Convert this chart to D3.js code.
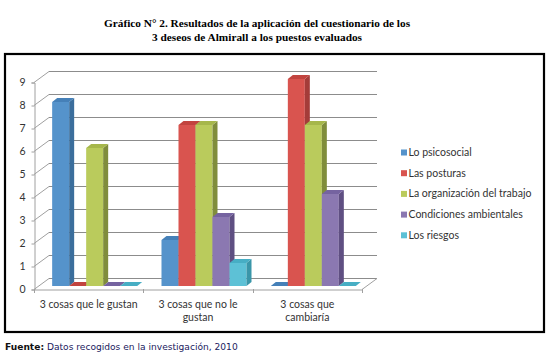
<!DOCTYPE html>
<html><head><meta charset="utf-8">
<script src="https://cdn.jsdelivr.net/npm/d3@7"></script>
<style>
html,body{margin:0;padding:0;background:#fff;}
svg{display:block;}
</style></head>
<body>
<svg id="chart" width="548" height="356"></svg>
<script>
// ---- data ----
const categories = ["3 cosas que le gustan", "3 cosas que no le gustan", "3 cosas que cambiaría"];
const categoryLabels = [["3 cosas que le gustan"], ["3 cosas que no le", "gustan"], ["3 cosas que", "cambiaría"]];
const seriesNames = ["Lo psicosocial", "Las posturas", "La organización del trabajo", "Condiciones ambientales", "Los riesgos"];
const psicosocial = [8, 2, 0];
const posturas = [0, 7, 9];
const organizacion = [6, 7, 7];
const condiciones = [0, 3, 4];
const riesgos = [0, 1, 0];
const yTicks = [0, 1, 2, 3, 4, 5, 6, 7, 8, 9];
const seriesColors = ["#5593cb", "#d9544f", "#bacb5c", "#8b78b1", "#5dc1d6"];
const sideColors = ["#3b6e9c", "#a43c39", "#808d3c", "#5f4f82", "#3a96a9"];
const topColors = ["#4580b8", "#c2443f", "#a6b74b", "#7563a0", "#47aec4"];
const titleLines = ["Gráfico N° 2. Resultados de la aplicación del cuestionario de los", "3 deseos de Almirall a los puestos evaluados"];

const seriesValues = [psicosocial, posturas, organizacion, condiciones, riesgos];

const svg = d3.select("#chart");
const font = "Lato, 'Open Sans', sans-serif";

// title
svg.append("g").selectAll("text").data(titleLines).join("text")
  .attr("x", 257).attr("y", (d, i) => 27 + i * 14)
  .attr("text-anchor", "middle")
  .attr("font-family", "'Liberation Serif', 'Times New Roman', serif")
  .attr("font-weight", "bold").attr("font-size", 11.3).attr("fill", "#000")
  .text(d => d);

// frame
svg.append("rect").attr("x", 5).attr("y", 54).attr("width", 539).attr("height", 278)
  .attr("fill", "#fff").attr("stroke", "#000").attr("stroke-width", 2.2);

// scales
const x0 = d3.scaleBand().domain(categories).range([34, 362]).padding(0);
const x1 = d3.scaleBand().domain(seriesNames).range([0, x0.bandwidth()]).paddingInner(0).paddingOuter(0.715);
const y = d3.scaleLinear().domain([0, 9]).range([289, 82]);
const dX = 15, dY = -11;       // wall depth
const bX = 6, bY = -3;         // bar front position inside depth
const bdX = 5, bdY = -4;       // bar depth

const grid = svg.append("g").attr("stroke", "#8c8c8c").attr("stroke-width", 1).attr("fill", "none");
// back wall gridlines
grid.selectAll("line.bw").data(yTicks).join("line").attr("class", "bw")
  .attr("x1", 34 + dX).attr("x2", 362 + dX)
  .attr("y1", d => y(d) + dY + 0.5).attr("y2", d => y(d) + dY + 0.5);
// left wall diagonals
grid.selectAll("line.lw").data(yTicks).join("line").attr("class", "lw")
  .attr("x1", 34).attr("x2", 34 + dX)
  .attr("y1", d => y(d) + 0.5).attr("y2", d => y(d) + dY + 0.5)
  .attr("stroke", "#a0a0a0");
// floor right edge
grid.append("line").attr("x1", 362).attr("y1", y(0) + 0.5).attr("x2", 362 + dX).attr("y2", y(0) + dY + 0.5).attr("stroke", "#a0a0a0");

// axes
const yAxis = d3.axisLeft(y).tickValues(yTicks).tickSize(3).tickPadding(6).tickFormat(d3.format("d"));
const gy = svg.append("g").attr("transform", "translate(34.5,0.5)").call(yAxis);
gy.select(".domain").attr("stroke", "#a0a0a0");
gy.selectAll(".tick line").attr("stroke", "#a0a0a0");
gy.selectAll(".tick text").attr("font-family", font).attr("font-size", 10.5).attr("fill", "#333");

const xAxis = d3.axisBottom(x0).tickSize(0).tickFormat("");
const gx = svg.append("g").attr("transform", "translate(0.5," + (y(0) + 0.5) + ")").call(xAxis);
gx.select(".domain").attr("stroke", "#a0a0a0");
gx.selectAll(".tick").remove();
// category separator ticks
svg.append("g").selectAll("line").data(categories.map(c => x0(c)).concat([x0.range()[1]])).join("line")
  .attr("x1", d => Math.round(d) + 0.5).attr("x2", d => Math.round(d) + 0.5)
  .attr("y1", y(0)).attr("y2", y(0) + 4).attr("stroke", "#a0a0a0");

// category labels
const lab = svg.append("g").selectAll("text").data(categories).join("text")
  .attr("text-anchor", "middle").attr("font-family", font).attr("font-size", 10.5).attr("fill", "#333");
lab.each(function (c, i) {
  d3.select(this).selectAll("tspan").data(categoryLabels[i]).join("tspan")
    .attr("x", x0(c) + x0.bandwidth() / 2).attr("y", (d, j) => 308 + j * 13).text(d => d);
});

// bars
const bars = [];
categories.forEach((c, ci) => {
  seriesNames.forEach((s, si) => {
    bars.push({ c, s, si, v: seriesValues[si][ci] });
  });
});
const bw = x1.bandwidth();
const bg = svg.append("g");
bars.forEach(b => {
  const xl = x0(b.c) + x1(b.s) + bX;
  const xr = xl + bw;
  const yb = y(0) + bY;
  const yt = y(b.v) + bY;
  const g = bg.append("g");
  if (b.v > 0) {
    g.append("rect").attr("x", xl).attr("y", yt).attr("width", bw).attr("height", yb - yt).attr("fill", seriesColors[b.si]);
    g.append("path").attr("d", `M${xr},${yt}L${xr + bdX},${yt + bdY}L${xr + bdX},${yb + bdY}L${xr},${yb}Z`).attr("fill", sideColors[b.si]);
  }
  g.append("path").attr("d", `M${xl},${yt}L${xl + bdX},${yt + bdY}L${xr + bdX},${yt + bdY}L${xr},${yt}Z`).attr("fill", topColors[b.si]);
});

// legend
const leg = svg.append("g").selectAll("g").data(seriesNames).join("g")
  .attr("transform", (d, i) => `translate(401,${152.5 + i * 20.7})`);
leg.append("rect").attr("x", 0).attr("y", -3).attr("width", 6).attr("height", 6).attr("fill", (d, i) => seriesColors[i]);
leg.append("text").attr("x", 7.5).attr("y", 3.5).attr("font-family", font).attr("font-size", 10.5).attr("fill", "#333").text(d => d);

// source
const src = svg.append("text").attr("x", 5).attr("y", 350).attr("font-family", "'DejaVu Sans', Verdana, sans-serif").attr("font-size", 9.1);
src.append("tspan").attr("font-weight", "bold").attr("fill", "#111").text("Fuente:");
src.append("tspan").attr("fill", "#1a1a5e").text(" Datos recogidos en la investigación, 2010");
</script>
</body></html>
